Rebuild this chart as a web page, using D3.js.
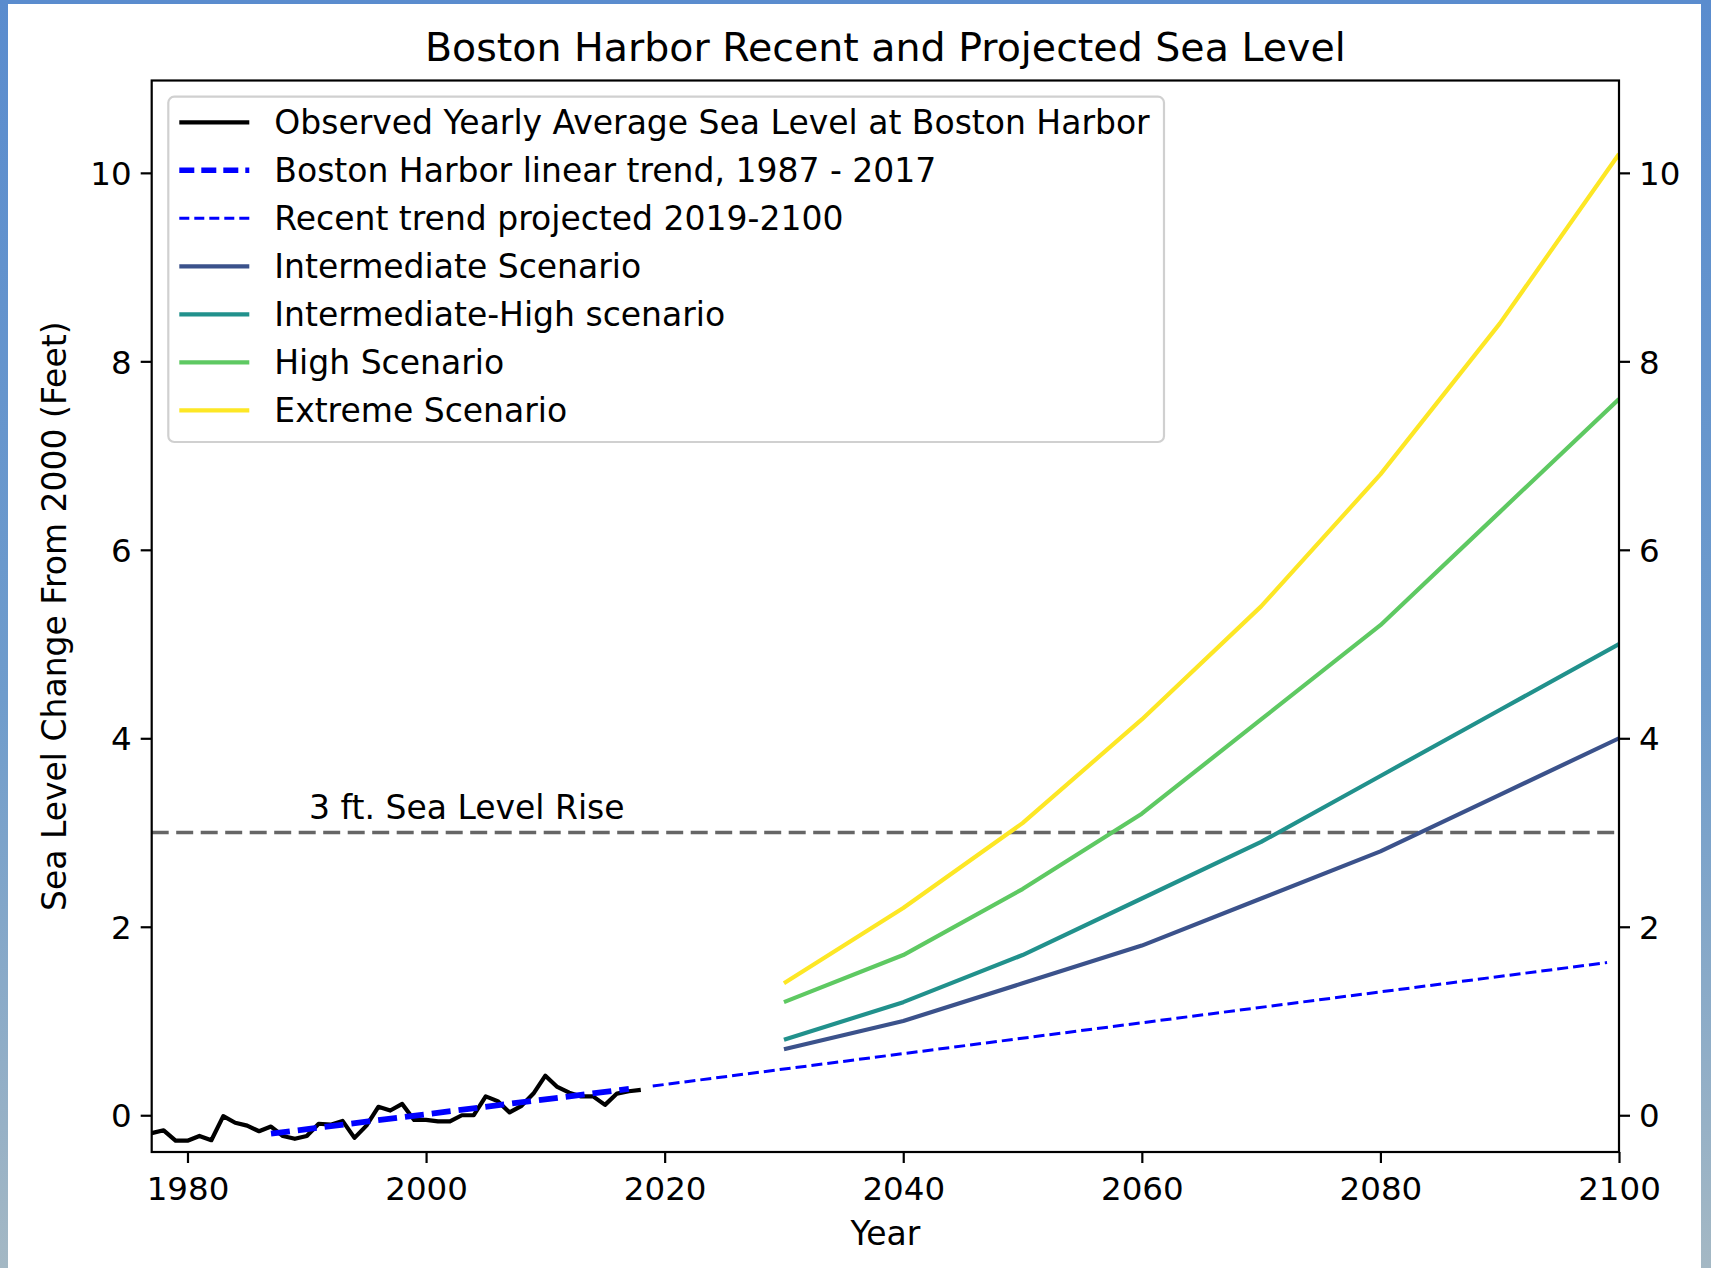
<!DOCTYPE html>
<html>
<head>
<meta charset="utf-8">
<script src="https://cdn.jsdelivr.net/npm/d3@7"></script>
<style>
html, body { margin: 0; padding: 0; width: 1711px; height: 1268px; overflow: hidden; }
svg { display: block; font-family: "DejaVu Sans", sans-serif; }
</style>
</head>
<body>
<svg id="chart" width="1711" height="1268"></svg>
<script>
// ---- data ----
const observedYears = [1977,1978,1979,1980,1981,1982,1983,1984,1985,1986,1987,1988,1989,1990,1991,1992,1993,1994,1995,1996,1997,1998,1999,2000,2001,2002,2003,2004,2005,2006,2007,2008,2009,2010,2011,2012,2013,2014,2015,2016,2017,2018];
const observedValues = [-0.19,-0.16,-0.27,-0.27,-0.22,-0.265,-0.01,-0.08,-0.11,-0.17,-0.12,-0.22,-0.25,-0.22,-0.09,-0.10,-0.06,-0.24,-0.11,0.09,0.05,0.12,-0.05,-0.05,-0.065,-0.065,0.0,0.0,0.20,0.15,0.03,0.10,0.23,0.42,0.30,0.24,0.20,0.20,0.11,0.23,0.255,0.27];
const trendYears = [1987, 2017];
const trendValues = [-0.195, 0.28];
const projYears = [2019, 2099];
const projValues = [0.31, 1.62];
const scenarioYears = [2030,2040,2050,2060,2070,2080,2090,2100];
const intermediate = [0.7,1.0,1.4,1.8,2.3,2.8,3.4,4.0];
const intermediateHigh = [0.8,1.2,1.7,2.3,2.9,3.6,4.3,5.0];
const high = [1.2,1.7,2.4,3.2,4.2,5.2,6.4,7.6];
const extreme = [1.4,2.2,3.1,4.2,5.4,6.8,8.4,10.2];
const thresholdValue = 3;
const xTicks = [1980,2000,2020,2040,2060,2080,2100];
const yTicks = [0,2,4,6,8,10];
const legendLabels = ["Observed Yearly Average Sea Level at Boston Harbor","Boston Harbor linear trend, 1987 - 2017","Recent trend projected 2019-2100","Intermediate Scenario","Intermediate-High scenario","High Scenario","Extreme Scenario"];

// ---- layout ----
const svg = d3.select("#chart");
const L = 151.7, R = 1619, T = 80.5, B = 1152;
const x = d3.scaleLinear().domain([1977, 2100]).range([L, R]);
const y = d3.scaleLinear().domain([-0.39, 10.98]).range([B, T]);

// background frame
const defs = svg.append("defs");
const grad = defs.append("linearGradient").attr("id","bg").attr("x1",0).attr("y1",0).attr("x2",0).attr("y2",1);
grad.append("stop").attr("offset","0%").attr("stop-color","#5a8cce");
grad.append("stop").attr("offset","55%").attr("stop-color","#6f9ccc");
grad.append("stop").attr("offset","100%").attr("stop-color","#a4b8c4");
svg.append("rect").attr("width",1711).attr("height",1268).attr("fill","url(#bg)");
svg.append("rect").attr("x",8).attr("y",4).attr("width",1693).attr("height",1264).attr("fill","#fff");

const clip = defs.append("clipPath").attr("id","plotclip");
clip.append("rect").attr("x",L).attr("y",T).attr("width",R-L).attr("height",B-T);

const g = svg.append("g").attr("clip-path","url(#plotclip)");
const line = d3.line().x(d => x(d[0])).y(d => y(d[1]));
const zip = (a,b) => a.map((v,i) => [v, b[i]]);

// threshold line
g.append("path").datum([[1977,thresholdValue],[2100,thresholdValue]])
  .attr("d", line).attr("fill","none").attr("stroke","#666").attr("stroke-width",3.5)
  .attr("stroke-dasharray","17,7.5");

const scen = [
  {v: intermediate, c: "#3b528b"},
  {v: intermediateHigh, c: "#21918c"},
  {v: high, c: "#5ec962"},
  {v: extreme, c: "#fde725"}
];
scen.forEach(s => {
  g.append("path").datum(zip(scenarioYears, s.v)).attr("d", line)
   .attr("fill","none").attr("stroke", s.c).attr("stroke-width",4.2).attr("stroke-linejoin","round");
});

// projected trend
g.append("path").datum(zip(projYears, projValues)).attr("d", line)
  .attr("fill","none").attr("stroke","#0000ff").attr("stroke-width",3).attr("stroke-dasharray","11,5");

// observed
g.append("path").datum(zip(observedYears, observedValues)).attr("d", line)
  .attr("fill","none").attr("stroke","#000").attr("stroke-width",4.2).attr("stroke-linejoin","round");

// linear trend
g.append("path").datum(zip(trendYears, trendValues)).attr("d", line)
  .attr("fill","none").attr("stroke","#0000ff").attr("stroke-width",5.8).attr("stroke-dasharray","19,8");

// axes
const fs = 32.5;
const ax = svg.append("g").attr("transform",`translate(0,${B})`).call(d3.axisBottom(x).tickValues(xTicks).tickFormat(d3.format("d")).tickSize(11).tickPadding(12));
const ayl = svg.append("g").attr("transform",`translate(${L},0)`).call(d3.axisLeft(y).tickValues(yTicks).tickSize(11).tickPadding(9));
const ayr = svg.append("g").attr("transform",`translate(${R},0)`).call(d3.axisRight(y).tickValues(yTicks).tickSize(11).tickPadding(9));
[ax, ayl, ayr].forEach(a => {
  a.select(".domain").remove();
  a.selectAll(".tick line").attr("stroke","#000").attr("stroke-width",2.2);
  a.selectAll(".tick text").attr("font-size",fs).attr("font-family","DejaVu Sans").attr("fill","#000");
});
ayl.selectAll(".tick text").attr("dy","0.36em");
ayr.selectAll(".tick text").attr("dy","0.36em");
ax.selectAll(".tick text").attr("dy","0.78em");

// frame
svg.append("rect").attr("x",L).attr("y",T).attr("width",R-L).attr("height",B-T)
  .attr("fill","none").attr("stroke","#000").attr("stroke-width",2.2);

// threshold label
svg.append("text").attr("x", 309).attr("y", y(thresholdValue) - 14)
  .attr("font-size",33).attr("fill","#000").text("3 ft. Sea Level Rise");

// title & axis labels
svg.append("text").attr("x",(L+R)/2).attr("y",61).attr("text-anchor","middle")
  .attr("font-size",39.5).attr("fill","#000").text("Boston Harbor Recent and Projected Sea Level");
svg.append("text").attr("x",(L+R)/2).attr("y",1245).attr("text-anchor","middle")
  .attr("font-size",33).attr("fill","#000").text("Year");
svg.append("text").attr("transform",`translate(66,${(T+B)/2}) rotate(-90)`).attr("text-anchor","middle")
  .attr("font-size",33).attr("fill","#000").text("Sea Level Change From 2000 (Feet)");

// legend
const lg = svg.append("g");
lg.append("rect").attr("x",168.3).attr("y",96.7).attr("width",1164-168.3).attr("height",442-96.7)
  .attr("rx",6).attr("fill","#fff").attr("fill-opacity",0.8).attr("stroke","#d0d0d0").attr("stroke-width",2.2);
const legendStyles = [
  {c:"#000", w:4.2, dash:null},
  {c:"#0000ff", w:5.5, dash:"15,7"},
  {c:"#0000ff", w:3, dash:"10,5"},
  {c:"#3b528b", w:4.2, dash:null},
  {c:"#21918c", w:4.2, dash:null},
  {c:"#5ec962", w:4.2, dash:null},
  {c:"#fde725", w:4.2, dash:null}
];
legendLabels.forEach((lab, i) => {
  const cy = 122.3 + i*48;
  const ln = lg.append("line").attr("x1",179.3).attr("x2",249.3).attr("y1",cy).attr("y2",cy)
    .attr("stroke",legendStyles[i].c).attr("stroke-width",legendStyles[i].w);
  if (legendStyles[i].dash) ln.attr("stroke-dasharray",legendStyles[i].dash);
  lg.append("text").attr("x",274.3).attr("y",cy + 12).attr("font-size",33).attr("fill","#000").text(lab);
});
</script>
</body>
</html>
